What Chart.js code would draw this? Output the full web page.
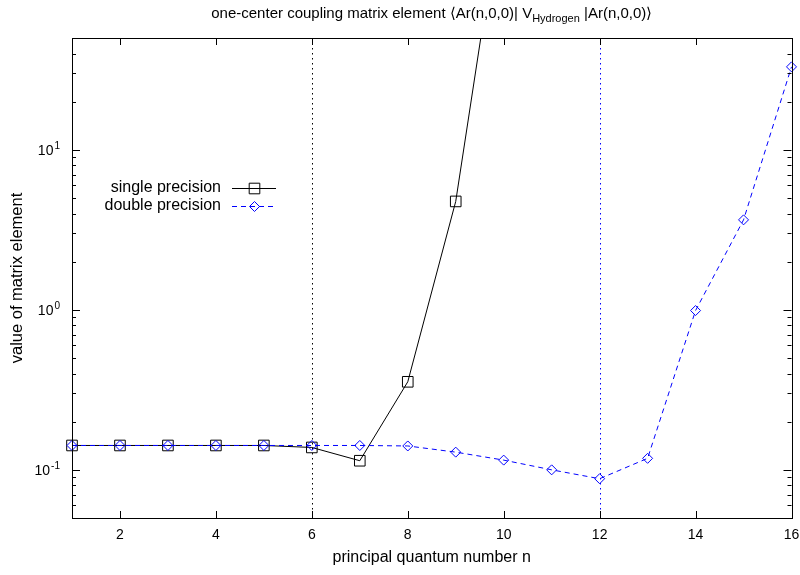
<!DOCTYPE html>
<html>
<head>
<meta charset="utf-8">
<script src="https://cdn.jsdelivr.net/npm/chart.js@4/dist/chart.umd.min.js"></script>
<style>
  html, body { margin: 0; padding: 0; background: #fff; }
  #wrap { width: 800px; height: 575px; }
</style>
</head>
<body>
<div id="wrap"><canvas id="chart" width="800" height="575"></canvas></div>
<script>
// principal quantum number n
const nValues = [1, 2, 3, 4, 5, 6, 7, 8, 9, 10, 11, 12, 13, 14, 15, 16];
// single precision blows up after n=7 (n=10 is off the top of the plot)
const singlePrec = [0.142, 0.142, 0.142, 0.142, 0.142, 0.138, 0.114, 0.355, 4.76, 430, null, null, null, null, null, null];
const doublePrec = [0.142, 0.142, 0.142, 0.142, 0.142, 0.142, 0.142, 0.141, 0.129, 0.115, 0.1, 0.088, 0.118, 0.99, 3.65, 33];
const xTicks = [2, 4, 6, 8, 10, 12, 14, 16];
const yMajor = [0.1, 1, 10];
const yExp = ['-1', '0', '1'];
const vLines = [{ x: 6, color: '#000000' }, { x: 12, color: '#0000ff' }];

const FONT = '"Liberation Sans", Arial, Helvetica, sans-serif';

const gnuplotFrame = {
  id: 'gnuplotFrame',
  beforeDatasetsDraw(chart) {
    const { ctx, chartArea: a, scales: { x } } = chart;
    ctx.save();
    ctx.lineWidth = 1;
    vLines.forEach(v => {
      const px = Math.round(x.getPixelForValue(v.x)) + 0.5;
      ctx.strokeStyle = v.color;
      ctx.setLineDash([1.5, 3.5]);
      ctx.beginPath();
      ctx.moveTo(px, a.top);
      ctx.lineTo(px, a.bottom);
      ctx.stroke();
    });
    ctx.restore();
  },
  afterDraw(chart) {
    const { ctx, chartArea: a, scales: { x, y } } = chart;
    ctx.save();
    ctx.strokeStyle = '#000';
    ctx.lineWidth = 1;
    ctx.setLineDash([]);
    ctx.strokeRect(Math.round(a.left) + 0.5, Math.round(a.top) + 0.5,
      Math.round(a.right - a.left), Math.round(a.bottom - a.top));

    // x ticks (inward, mirrored on top)
    ctx.beginPath();
    xTicks.forEach(t => {
      const px = Math.round(x.getPixelForValue(t)) + 0.5;
      ctx.moveTo(px, a.bottom); ctx.lineTo(px, a.bottom - 7);
      ctx.moveTo(px, a.top); ctx.lineTo(px, a.top + 7);
    });
    // y ticks, major and minor, both sides
    for (let e = -2; e <= 1; e++) {
      for (let m = 1; m <= 9; m++) {
        const v = m * Math.pow(10, e);
        if (v < y.min - 1e-9 || v > y.max + 1e-9) continue;
        const py = Math.round(y.getPixelForValue(v)) + 0.5;
        const len = m === 1 ? 8 : 4;
        ctx.moveTo(a.left, py); ctx.lineTo(a.left + len, py);
        ctx.moveTo(a.right, py); ctx.lineTo(a.right - len, py);
      }
    }
    ctx.stroke();

    ctx.fillStyle = '#000';
    // x tick labels
    ctx.font = '14px ' + FONT;
    ctx.textAlign = 'center';
    ctx.textBaseline = 'middle';
    xTicks.forEach(t => ctx.fillText(String(t), x.getPixelForValue(t), a.bottom + 17));

    // y tick labels 10^k
    yMajor.forEach((v, i) => {
      const py = y.getPixelForValue(v);
      ctx.font = '10px ' + FONT;
      const ew = ctx.measureText(yExp[i]).width;
      ctx.textAlign = 'left';
      ctx.textBaseline = 'alphabetic';
      const right = a.left - 12;
      ctx.fillText(yExp[i], right - ew, py - 1);
      ctx.font = '14px ' + FONT;
      ctx.textAlign = 'right';
      ctx.fillText('10', right - ew - 1, py + 5);
    });

    // axis titles
    ctx.font = '16px ' + FONT;
    ctx.textAlign = 'center';
    ctx.textBaseline = 'middle';
    ctx.fillText('principal quantum number n', (a.left + a.right) / 2, a.bottom + 40);
    ctx.save();
    ctx.translate(17, (a.top + a.bottom) / 2);
    ctx.rotate(-Math.PI / 2);
    ctx.font = '16.5px ' + FONT;
    ctx.fillText('value of matrix element', 0, 0);
    ctx.restore();

    // title with subscript
    const parts = [
      { t: 'one-center coupling matrix element \u27E8Ar(n,0,0)| V', f: 15, dy: 0 },
      { t: 'Hydrogen', f: 11, dy: 4 },
      { t: ' |Ar(n,0,0)\u27E9', f: 15, dy: 0 }
    ];
    let total = 0;
    parts.forEach(p => { ctx.font = p.f + 'px ' + FONT; p.w = ctx.measureText(p.t).width; total += p.w; });
    let tx = (a.left + a.right) / 2 - total / 2;
    ctx.textAlign = 'left';
    ctx.textBaseline = 'alphabetic';
    parts.forEach(p => { ctx.font = p.f + 'px ' + FONT; ctx.fillText(p.t, tx, 18 + p.dy); tx += p.w; });

    // legend
    const legend = [
      { label: 'single precision', color: '#000000', dash: [], style: 'rect', r: 7.5, y: 188 },
      { label: 'double precision', color: '#0000ff', dash: [5, 4], style: 'rectRot', r: 5, y: 206 }
    ];
    legend.forEach(l => {
      ctx.font = '16px ' + FONT;
      ctx.textAlign = 'right';
      ctx.textBaseline = 'middle';
      ctx.fillStyle = '#000';
      ctx.fillText(l.label, 221, l.y);
      ctx.strokeStyle = l.color;
      ctx.setLineDash(l.dash);
      ctx.beginPath();
      ctx.moveTo(232, l.y + 0.5); ctx.lineTo(276, l.y + 0.5);
      ctx.stroke();
      ctx.setLineDash([]);
      ctx.fillStyle = 'rgba(0,0,0,0)';
      Chart.helpers.drawPoint(ctx, { pointStyle: l.style, radius: l.r, borderWidth: 1 }, 254.5, l.y + 0.5);
    });
    ctx.restore();
  }
};

new Chart(document.getElementById('chart'), {
  type: 'line',
  data: {
    labels: nValues,
    datasets: [
      {
        label: 'double precision',
        data: nValues.map((n, i) => ({ x: n, y: doublePrec[i] })),
        borderColor: '#0000ff',
        borderWidth: 1,
        borderDash: [5, 4],
        pointStyle: 'rectRot',
        pointRadius: 5,
        pointBorderWidth: 1,
        pointBorderColor: '#0000ff',
        pointBackgroundColor: 'rgba(0,0,0,0)',
        tension: 0,
        spanGaps: false,
        clip: { left: 10, right: 10, top: 0, bottom: 0 },
        order: 0
      },
      {
        label: 'single precision',
        data: nValues.map((n, i) => ({ x: n, y: singlePrec[i] })),
        borderColor: '#000000',
        borderWidth: 1,
        pointStyle: 'rect',
        pointRadius: 7.5,
        pointBorderWidth: 1,
        pointBorderColor: '#000000',
        pointBackgroundColor: 'rgba(0,0,0,0)',
        tension: 0,
        spanGaps: false,
        clip: { left: 10, right: 10, top: 0, bottom: 0 },
        order: 1
      }
    ]
  },
  options: {
    responsive: false,
    animation: false,
    devicePixelRatio: 1,
    layout: { padding: { left: 72, right: 7, top: 38, bottom: 57 } },
    plugins: { legend: { display: false }, tooltip: { enabled: false }, title: { display: false } },
    scales: {
      x: { type: 'linear', min: 1, max: 16, display: false },
      y: { type: 'logarithmic', min: 0.05, max: 50, display: false }
    }
  },
  plugins: [gnuplotFrame]
});
</script>
</body>
</html>
